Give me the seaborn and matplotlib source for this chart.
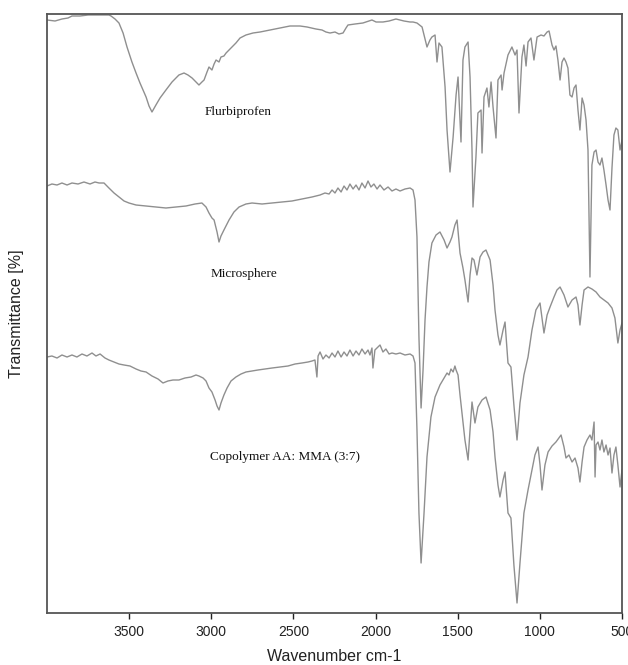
import matplotlib
matplotlib.use("Agg")
import matplotlib.pyplot as plt
import seaborn as sns
import pandas as pd

# ---------------- data (wavenumber cm-1, transmittance in arbitrary offset units) ----------------
flurbi_wn = [4000, 3951, 3909, 3872, 3848, 3799, 3750, 3708, 3653, 3623, 3610, 3586, 3562, 3537, 3513,
             3483, 3458, 3434, 3397, 3379, 3361, 3337, 3312, 3276, 3239, 3197, 3166, 3142, 3117, 3093,
             3075, 3057, 3044, 3026, 3014, 2996, 2983, 2971, 2953, 2941, 2923, 2910, 2892, 2874, 2850,
             2825, 2789, 2746, 2703, 2643, 2582, 2521, 2460, 2417, 2363, 2326, 2302, 2277, 2247, 2223,
             2198, 2180, 2168, 2125, 2077, 2040, 2022, 1997, 1955, 1918, 1876, 1851, 1827, 1790, 1772,
             1748, 1717, 1705, 1687, 1669, 1657, 1638, 1626, 1614, 1596, 1577, 1565, 1547, 1528, 1510,
             1498, 1480, 1468, 1456, 1437, 1425, 1413, 1407, 1389, 1377, 1358, 1352, 1340, 1322, 1310,
             1297, 1285, 1267, 1255, 1236, 1230, 1218, 1194, 1170, 1151, 1139, 1127, 1109, 1097, 1084,
             1072, 1054, 1036, 1017, 993, 975, 956, 944, 926, 914, 902, 890, 877, 865, 853, 841, 829,
             817, 804, 792, 780, 768, 756, 743, 731, 719, 707, 695, 683, 670, 658, 646, 634, 622, 610,
             597, 585, 573, 561, 549, 537, 525, 512, 500]
flurbi_t = [593, 592, 594, 595, 597, 597, 598, 598, 598, 598, 597, 594, 590, 580, 566,
            551, 540, 530, 516, 507, 501, 508, 515, 523, 531, 538, 540, 538, 535, 531,
            528, 531, 533, 541, 546, 543, 549, 553, 551, 556, 557, 560, 563, 566, 570,
            575, 578, 580, 581, 583, 585, 587, 587, 586, 584, 583, 581, 580, 581, 579,
            580, 585, 588, 589, 590, 592, 593, 591, 591, 592, 594, 593, 592, 591, 591,
            590, 586, 578, 566, 573, 576, 578, 551, 570, 566, 526, 483, 441, 476, 518,
            536, 471, 553, 566, 571, 536, 463, 406, 456, 500, 503, 460, 516, 525, 506,
            531, 506, 475, 533, 538, 523, 540, 558, 566, 558, 563, 500, 556, 568, 547,
            571, 575, 553, 576, 578, 577, 581, 582, 568, 563, 567, 553, 533, 551, 555, 551, 545,
            518, 516, 525, 528, 503, 483, 515, 508, 493, 463, 336, 448, 461, 463, 451, 448, 455, 443,
            428, 413, 403, 445, 478, 485, 483, 463, 473]

micro_wn = [4000, 3970, 3939, 3909, 3878, 3848, 3811, 3775, 3738, 3708, 3683, 3653, 3623, 3592, 3562,
            3531, 3501, 3458, 3397, 3337, 3276, 3215, 3154, 3099, 3057, 3032, 3014, 2996, 2983, 2965,
            2953, 2941, 2923, 2892, 2862, 2831, 2789, 2752, 2691, 2630, 2570, 2509, 2448, 2387, 2338,
            2308, 2283, 2265, 2247, 2229, 2210, 2192, 2174, 2156, 2137, 2119, 2101, 2083, 2064, 2046,
            2028, 2010, 1991, 1973, 1949, 1924, 1900, 1876, 1851, 1821, 1790, 1772, 1760, 1748, 1736,
            1723, 1711, 1699, 1687, 1675, 1657, 1632, 1608, 1583, 1565, 1547, 1535, 1517, 1504, 1486,
            1468, 1456, 1437, 1425, 1413, 1401, 1383, 1364, 1346, 1328, 1303, 1285, 1273, 1255, 1243,
            1224, 1212, 1194, 1176, 1158, 1139, 1121, 1097, 1072, 1048, 1024, 999, 987, 975, 956,
            938, 914, 896, 877, 853, 829, 804, 780, 768, 756, 743, 731, 707, 683, 658, 634, 610,
            585, 561, 543, 525, 512, 500]
micro_t = [427, 429, 428, 430, 428, 430, 429, 431, 429, 431, 430, 430, 425, 420, 416,
           412, 410, 408, 407, 406, 405, 406, 407, 409, 410, 406, 400, 395, 393, 381,
           371, 377, 383, 393, 401, 406, 409, 410, 409, 410, 411, 412, 414, 416, 418,
           420, 419, 423, 420, 425, 421, 427, 423, 429, 424, 428, 423, 430, 425, 432,
           426, 429, 424, 428, 423, 426, 422, 424, 422, 424, 425, 423, 413, 376, 276,
           205, 243, 293, 326, 351, 370, 378, 381, 373, 365, 371, 376, 388, 393, 360,
           345, 333, 311, 338, 355, 353, 338, 356, 361, 363, 353, 328, 303, 278, 268,
           283, 291, 250, 246, 208, 173, 210, 238, 256, 283, 303, 310, 295, 280, 298,
           306, 316, 323, 326, 318, 306, 313, 316, 308, 288, 308, 323, 326, 324, 321, 316, 313,
           310, 305, 295, 270, 283, 290]

copo_wn = [4000, 3970, 3939, 3909, 3878, 3848, 3818, 3787, 3757, 3726, 3702, 3677, 3647, 3623, 3592,
           3562, 3531, 3495, 3458, 3428, 3397, 3361, 3324, 3294, 3264, 3233, 3197, 3160, 3123, 3093,
           3075, 3050, 3032, 3014, 2996, 2977, 2965, 2953, 2941, 2923, 2904, 2880, 2850, 2819, 2789,
           2752, 2716, 2673, 2630, 2582, 2533, 2490, 2448, 2411, 2387, 2369, 2357, 2350, 2338, 2320,
           2302, 2283, 2265, 2247, 2229, 2210, 2192, 2174, 2156, 2137, 2119, 2101, 2083, 2064, 2046,
           2034, 2022, 2016, 2004, 1985, 1973, 1955, 1937, 1918, 1900, 1876, 1851, 1821, 1790, 1772,
           1760, 1748, 1736, 1723, 1705, 1687, 1663, 1638, 1608, 1583, 1565, 1553, 1541, 1528, 1517,
           1510, 1498, 1486, 1474, 1456, 1437, 1425, 1413, 1395, 1377, 1352, 1328, 1303, 1285, 1273,
           1255, 1243, 1224, 1212, 1194, 1176, 1158, 1139, 1121, 1097, 1072, 1048, 1030, 1011, 999,
           987, 969, 950, 926, 902, 871, 853, 841, 823, 804, 786, 768, 756, 743, 731, 713, 695,
           683, 670, 664, 658, 646, 634, 622, 610, 597, 585, 573, 561, 549, 537, 525, 512, 500]
copo_t = [256, 257, 255, 258, 256, 258, 256, 259, 257, 260, 257, 259, 255, 253, 251,
          249, 248, 247, 244, 242, 241, 237, 234, 230, 232, 233, 233, 235, 236, 238,
          237, 235, 232, 225, 221, 213, 207, 203, 210, 218, 225, 232, 236, 239, 241,
          242, 243, 244, 245, 246, 247, 249, 250, 251, 252, 253, 236, 257, 261, 254,
          258, 255, 260, 256, 262, 256, 261, 257, 263, 257, 262, 258, 264, 259, 263,
          258, 265, 245, 263, 266, 268, 261, 264, 259, 260, 259, 260, 258, 259, 257,
          250, 183, 100, 50, 100, 156, 196, 216, 228, 235, 240, 238, 244, 241, 247,
          243, 238, 218, 200, 173, 153, 183, 211, 190, 206, 213, 216, 203, 181, 156,
          128, 116, 133, 141, 100, 95, 48, 10, 50, 100, 123, 143, 158, 166, 148,
          123, 148, 161, 167, 171, 178, 166, 155, 158, 151, 155, 145, 131, 151, 166, 173, 178,
          173, 191, 136, 168, 171, 163, 173, 161, 168, 158, 165, 140, 158, 166, 148, 126, 143]

labels = ["Flurbiprofen", "Microsphere", "Copolymer AA: MMA (3:7)"]
label_wn = [3038, 3002, 3008]
label_t = [501, 339, 156]
xticks = [3500, 3000, 2500, 2000, 1500, 1000, 500]

# ---------------- plot ----------------
sns.set_style("white")
plt.rcParams["font.family"] = ["Liberation Sans", "DejaVu Sans"]

fig = plt.figure(figsize=(6.28, 6.65), dpi=100)
ax = fig.add_axes([47 / 628, 1 - 613 / 665, 575 / 628, 599 / 665])

line_color = "#8f8f8f"
for wn, t in [(flurbi_wn, flurbi_t), (micro_wn, micro_t), (copo_wn, copo_t)]:
    df = pd.DataFrame({"wn": wn, "t": t})
    sns.lineplot(data=df, x="wn", y="t", sort=False, estimator=None,
                 color=line_color, linewidth=1.0, ax=ax)

for txt, x, y in zip(labels, label_wn, label_t):
    ax.text(x, y, txt, family=["Liberation Serif", "DejaVu Serif"], fontsize=9.5,
            ha="left", va="center", color="#111111")

ax.set_xlim(4000, 500)
ax.set_ylim(0, 599)
ax.set_xticks(xticks)
ax.set_xticklabels([str(v) for v in xticks])
ax.set_yticks([])
ax.tick_params(axis="x", direction="out", length=4, width=1, pad=5,
               labelsize=10, colors="#222222", bottom=True)
for s in ax.spines.values():
    s.set_color("#555555")
    s.set_linewidth(1.3)

ax.set_xlabel("Wavenumber cm-1", fontsize=11.5, color="#222222", labelpad=7)
ax.set_ylabel("Transmittance [%]", fontsize=11.5, color="#222222")
ax.yaxis.set_label_coords(-0.04, 0.5)

fig.savefig("out.png", dpi=100)
